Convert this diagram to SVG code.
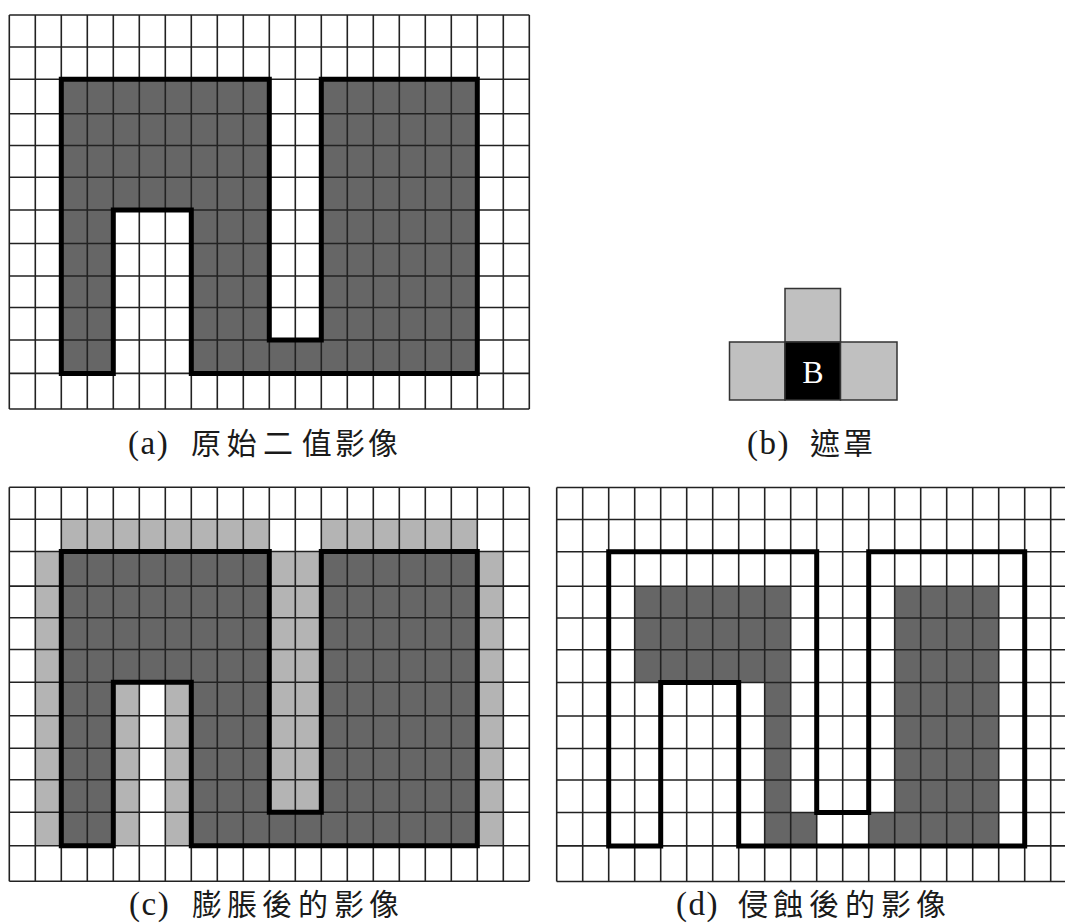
<svg xmlns="http://www.w3.org/2000/svg" xmlns:xlink="http://www.w3.org/1999/xlink" width="1065" height="924" viewBox="0 0 1065 924">
<style>
.gridln{fill:none;stroke:#222;stroke-width:1.6}
.outline{fill:none;stroke:#000;stroke-width:5;stroke-linejoin:miter}
.dark{fill:#666666}
.light{fill:#b4b4b4}
.mask{fill:#c0c0c0;stroke:#333;stroke-width:1.5}
.cap{font-family:"Liberation Serif","Noto Sans CJK TC",serif;font-size:33px;fill:#1a1a1a;letter-spacing:1.5px}
.cjk{font-family:"Noto Sans CJK TC","Liberation Serif",sans-serif;font-size:30px;letter-spacing:0}
</style>
<defs>
<path id="grid" class="gridln" d="M0 0V394M26 0V394M52 0V394M78 0V394M104 0V394M130 0V394M156 0V394M182 0V394M208 0V394M234 0V394M260 0V394M286 0V394M312 0V394M338 0V394M364 0V394M390 0V394M416 0V394M442 0V394M468 0V394M494 0V394M520 0V394M0 0H520M0 32H520M0 64.2H520M0 98.8H520M0 130.5H520M0 162.2H520M0 195H520M0 228.5H520M0 261H520M0 292.5H520M0 325H520M0 358.4H520M0 394H520"/>
<path id="shape" d="M52 64.2H260V325H312V64.2H468V358.4H182V195H104V358.4H52Z"/>
</defs>
<rect width="1065" height="924" fill="#fff"/>

<g id="panel-a" transform="translate(9.3,15)">
<use xlink:href="#shape" href="#shape" class="dark"/>
<use xlink:href="#grid" href="#grid"/>
<use xlink:href="#shape" href="#shape" class="outline"/>
</g>

<g id="panel-b">
<rect class="mask" x="785" y="288.5" width="55.5" height="53.5"/>
<rect class="mask" x="729.5" y="342" width="55.5" height="58"/>
<rect x="785" y="342" width="55.5" height="58" fill="#000" stroke="#333" stroke-width="1.5"/>
<rect class="mask" x="840.5" y="342" width="56.5" height="58"/>
<text x="813" y="383" text-anchor="middle" font-family="Liberation Serif, serif" font-size="32" fill="#fff">B</text>
</g>

<g id="panel-c" transform="translate(9.3,487.3)">
<rect class="light" x="52" y="32" width="208" height="32.2"/>
<rect class="light" x="312" y="32" width="156" height="32.2"/>
<rect class="light" x="26" y="64.2" width="26" height="294.2"/>
<rect class="light" x="468" y="64.2" width="26" height="294.2"/>
<rect class="light" x="260" y="64.2" width="52" height="260.8"/>
<rect class="light" x="104" y="195" width="26" height="163.4"/>
<rect class="light" x="156" y="195" width="26" height="163.4"/>
<use xlink:href="#shape" href="#shape" class="dark"/>
<use xlink:href="#grid" href="#grid"/>
<use xlink:href="#shape" href="#shape" class="outline"/>
</g>

<g id="panel-d" transform="translate(556.7,487.5)">
<rect class="dark" x="78" y="98.8" width="156" height="96.2"/>
<rect class="dark" x="208" y="195" width="26" height="163.4"/>
<rect class="dark" x="234" y="325" width="26" height="33.4"/>
<rect class="dark" x="312" y="325" width="26" height="33.4"/>
<rect class="dark" x="338" y="98.8" width="104" height="259.6"/>
<use xlink:href="#grid" href="#grid"/>
<use xlink:href="#shape" href="#shape" class="outline"/>
</g>

<g id="captions">
<text id="cap-a" class="cap" x="128" y="454">(a)<tspan class="cjk" x="191 226.7 263 301.7 335 368">原始二值影像</tspan></text>
<text id="cap-b" class="cap" x="747" y="454">(b)<tspan class="cjk" x="810 843">遮罩</tspan></text>
<text id="cap-c" class="cap" x="129" y="915">(c)<tspan class="cjk" x="192 227 262 298 334 369">膨脹後的影像</tspan></text>
<text id="cap-d" class="cap" x="676" y="915">(d)<tspan class="cjk" x="738 773 809 845 881 916">侵蝕後的影像</tspan></text>
</g>
</svg>
